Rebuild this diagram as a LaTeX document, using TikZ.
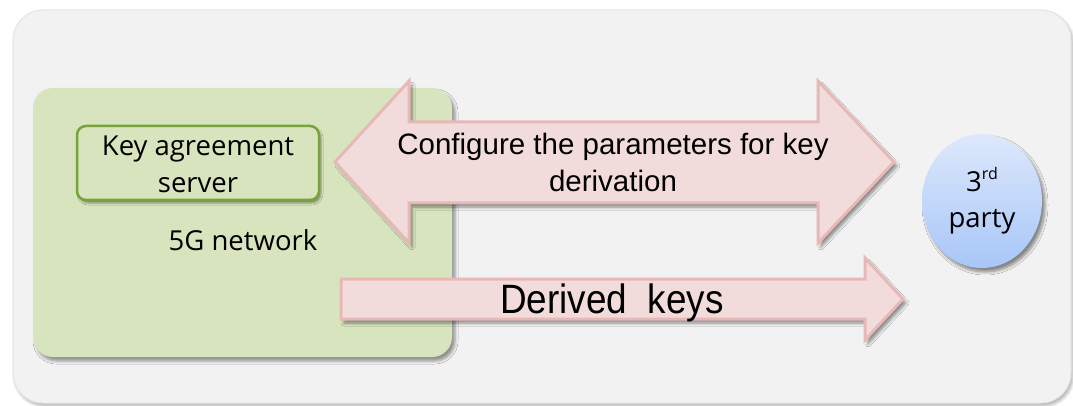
\documentclass[tikz,border=0pt]{standalone}
\usepackage{fontspec}
\setmainfont{Open Sans}
\newfontfamily\arial{Liberation Sans}
\usetikzlibrary{shapes.geometric,shadows.blur}

\definecolor{panel}{HTML}{F2F2F2}
\definecolor{panelline}{HTML}{E4E4E4}
\definecolor{netgreen}{HTML}{D7E4BD}
\definecolor{srvline}{HTML}{77A33B}
\definecolor{pinkfill}{HTML}{F2DCDB}
\definecolor{pinkline}{HTML}{E6B9B8}
\definecolor{bluetop}{HTML}{DDE8FB}
\definecolor{bluebot}{HTML}{A8C6F8}

\tikzset{
  soft/.style={blur shadow={shadow xshift=3pt, shadow yshift=-4pt,
      shadow blur radius=3pt, shadow blur steps=6, shadow opacity=45}},
  blockarrow/.style={fill=pinkfill, draw=pinkline, line width=3pt,
      line join=miter, soft},
  label/.style={inner sep=0pt, align=center, text=black,
      font=\fontsize{27.5}{37}\selectfont},
}

\begin{document}
\begin{tikzpicture}[x=1pt, y=-1pt]
\useasboundingbox (0,0) rectangle (1073,406);

% outer panel
\path[fill=panel, draw=panelline, line width=1pt, rounded corners=30pt,
  blur shadow={shadow xshift=2pt, shadow yshift=-3pt, shadow blur radius=3pt, shadow opacity=30}]
  (13,10) rectangle (1071,403);

% 5G network area
\path[fill=netgreen, rounded corners=20pt,
  blur shadow={shadow xshift=3pt, shadow yshift=-4pt, shadow blur radius=3pt, shadow opacity=40}]
  (33,88) rectangle (452,357);

% key agreement server
\node[draw=srvline, fill=netgreen, line width=2.5pt, rounded corners=9pt,
  minimum width=242pt, minimum height=74pt, inner sep=0pt,
  blur shadow={shadow xshift=2pt, shadow yshift=-3pt, shadow blur radius=2pt, shadow opacity=40}]
  (srv) at (198,163) {};
\node[label] (srvtext) at (198,164) {Key agreement\\server};

\node[label, anchor=base] (net) at (243,250) {5G network};

% third party
\node[ellipse, minimum width=120pt, minimum height=134pt, inner sep=0pt,
  top color=bluetop, bottom color=bluebot, soft] (party) at (982,201) {};
\node[label, anchor=base] (partyl1) at (982,192) {3\raisebox{0.45em}{\fontsize{16}{16}\selectfont rd}};
\node[label, anchor=base] (partyl2) at (982,227) {party};

% two-way configuration arrow
\coordinate (cfgL) at (335,162);
\coordinate (cfgR) at (894,162);
\path[blockarrow]
  (cfgL) -- (409,81) -- (409,122) -- (818,122) -- (818,81) -- (cfgR)
  -- (818,243) -- (818,203) -- (409,203) -- (409,243) -- cycle;
\node[inner sep=0pt, align=center, font=\arial\fontsize{29.5}{37}\selectfont,
  anchor=base] (cfg) at (613,155) {Configure the parameters for key};
\node[inner sep=0pt, font=\arial\fontsize{29.5}{37}\selectfont, anchor=base]
  (cfg2) at (613,192) {derivation};

% one-way key delivery arrow
\coordinate (keyL) at (341,299);
\coordinate (keyR) at (903,299);
\path[blockarrow]
  (341,279) -- (865,279) -- (865,258) -- (keyR) -- (865,340) -- (865,319)
  -- (341,319) -- cycle;
\node[inner sep=0pt, anchor=base] (keys) at (612,313)
  {\scalebox{0.9}[1]{\arial\fontsize{41}{41}\selectfont Derived\ \ keys}};
\end{tikzpicture}
\end{document}
